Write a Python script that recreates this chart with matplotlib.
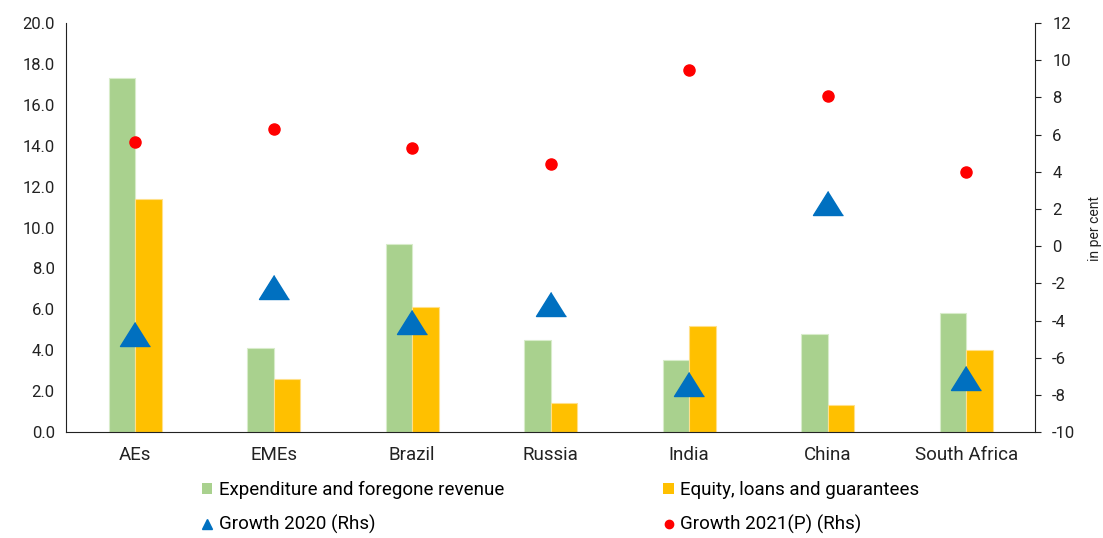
import matplotlib.pyplot as plt
import numpy as np
from matplotlib.patches import Patch
from matplotlib.lines import Line2D
from matplotlib.ticker import FormatStrFormatter

plt.rcParams['font.family'] = ['Roboto', 'DejaVu Sans']
plt.rcParams['axes.unicode_minus'] = False

categories = ['AEs', 'EMEs', 'Brazil', 'Russia', 'India', 'China', 'South Africa']
expenditure = [17.3, 4.1, 9.2, 4.5, 3.5, 4.8, 5.8]
equity = [11.4, 2.6, 6.1, 1.4, 5.2, 1.3, 4.0]
growth_2020 = [-4.7, -2.2, -4.1, -3.1, -7.4, 2.3, -7.1]
growth_2021 = [5.6, 6.3, 5.3, 4.4, 9.5, 8.1, 4.0]

green = '#A9D18E'
orange = '#FFC000'
blue = '#0070C0'
red = '#FF0000'
txt = '#222222'

fig = plt.figure(figsize=(11.03, 5.38), dpi=100)
ax = fig.add_axes([0.0598, 0.197, 0.879, 0.76])
x = np.arange(len(categories))
w = 0.19

ax.bar(x - w / 2, expenditure, w, color=green, edgecolor='#d8ecca', linewidth=0.8)
ax.bar(x + w / 2, equity, w, color=orange, edgecolor='#ffe08a', linewidth=0.8)
ax.set_xlim(-0.5, len(categories) - 0.5)
ax.set_ylim(0, 20)
ax.set_yticks(np.arange(0, 21, 2))
ax.yaxis.set_major_formatter(FormatStrFormatter('%.1f'))
ax.set_xticks(x)
ax.set_xticklabels(categories)
ax.tick_params(axis='y', length=0, labelsize=12, colors=txt, pad=8)
ax.tick_params(axis='x', length=0, labelsize=13.5, colors=txt, pad=10)
ax.spines['top'].set_visible(False)
ax.spines['right'].set_visible(False)
for s in ['left', 'bottom']:
    ax.spines[s].set_color(txt)

# right axis for growth
ax2 = ax.twinx()
tri = [(0, 0.8), (-1, -0.8), (1, -0.8)]
ax2.plot(x, growth_2020, linestyle='none', marker=tri, markersize=21.6, color=blue)
ax2.plot(x, growth_2021, linestyle='none', marker='o', markersize=8, color=red)
ax2.set_ylim(-10, 12)
ax2.set_yticks(np.arange(-10, 13, 2))
ax2.tick_params(axis='y', length=4, labelsize=12, colors=txt, pad=8)
ax2.spines['top'].set_visible(False)
ax2.spines['left'].set_visible(False)
ax2.spines['bottom'].set_visible(False)
ax2.spines['right'].set_color(txt)
fig.text(0.993, 0.575, 'in per cent', rotation=90, ha='center', va='center',
         fontsize=10, color=txt)

handles = [
    Patch(facecolor=green, label='Expenditure and foregone revenue'),
    Line2D([], [], linestyle='none', marker='^', color=blue, markersize=7,
           label='Growth 2020 (Rhs)'),
    Patch(facecolor=orange, label='Equity, loans and guarantees'),
    Line2D([], [], linestyle='none', marker='o', color=red, markersize=6,
           label='Growth 2021(P) (Rhs)'),
]
fig.legend(handles=handles, ncol=2, loc='center left', bbox_to_anchor=(0.183, 0.056),
           frameon=False, fontsize=13.5, handlelength=0.55, handleheight=0.55,
           handletextpad=0.35, columnspacing=8.5, labelspacing=0.85,
           borderaxespad=0, borderpad=0)

plt.savefig('out.png', dpi=100)
